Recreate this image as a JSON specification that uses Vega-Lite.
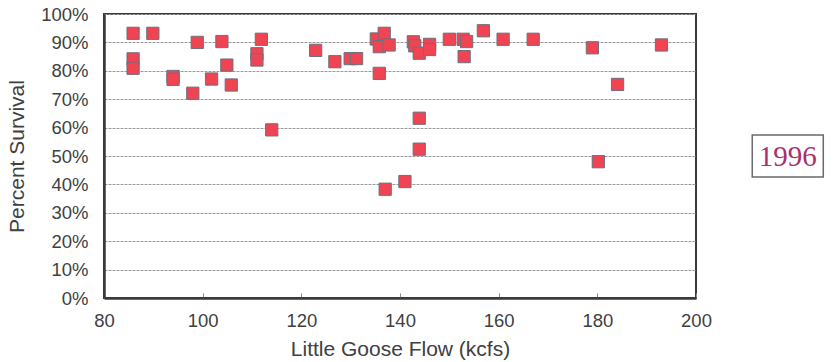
{
  "$schema": "https://vega.github.io/schema/vega-lite/v6.json",
  "autosize": {"type": "none"},
  "width": 592,
  "height": 284,
  "padding": {"left": 104, "top": 14, "right": 139, "bottom": 64},
  "background": "white",
  "config": {
    "view": {"stroke": "#3a3a3a", "strokeWidth": 2},
    "axis": {"labelFont": "Liberation Sans", "titleFont": "Liberation Sans", "labelColor": "#404040", "titleColor": "#404040", "titleFontWeight": "normal", "labelOverlap": false, "labelFlush": false}
  },
  "encoding": {
    "x": {"field": "flow", "type": "quantitative", "title": "Little Goose Flow (kcfs)", "scale": {"domain": [80, 200], "nice": false, "zero": false},
      "axis": {"values": [80, 100, 120, 140, 160, 180, 200], "tickCount": 20, "grid": false,
        "domainColor": "#3a3a3a", "domainWidth": 2.5, "ticks": true, "tickSize": -5, "tickColor": "#888", "labelPadding": 18,
        "labelFontSize": 18.5, "titleFontSize": 21, "titleX": 296, "titleY": 57, "titleBaseline": "alphabetic", "titleAlign": "center"}},
    "y": {"field": "survival", "type": "quantitative", "title": "Percent Survival", "scale": {"domain": [0, 1], "nice": false},
      "axis": {"values": [0, 0.1, 0.2, 0.3, 0.4, 0.5, 0.6, 0.7, 0.8, 0.9, 1.0], "tickCount": 20, "format": ".0%",
        "grid": true, "gridColor": "#9a9a9a", "gridWidth": 1, "gridDash": [3, 1],
        "domainColor": "#3a3a3a", "domainWidth": 2.5, "ticks": false, "labelPadding": 16,
        "labelFontSize": 18.5, "titleFontSize": 21, "titleAngle": -90, "titleX": -81, "titleY": 142, "titleBaseline": "alphabetic", "titleAlign": "center"}}
  },
  "layer": [
    {
      "data": {"values": [
        {"flow": 85.9, "survival": 0.932},
        {"flow": 85.9, "survival": 0.842},
        {"flow": 85.9, "survival": 0.809},
        {"flow": 89.9, "survival": 0.932},
        {"flow": 94.0, "survival": 0.780},
        {"flow": 94.0, "survival": 0.770},
        {"flow": 98.0, "survival": 0.721},
        {"flow": 98.9, "survival": 0.900},
        {"flow": 101.8, "survival": 0.771},
        {"flow": 103.9, "survival": 0.903},
        {"flow": 104.9, "survival": 0.820},
        {"flow": 105.8, "survival": 0.750},
        {"flow": 111.0, "survival": 0.860},
        {"flow": 111.0, "survival": 0.838},
        {"flow": 111.9, "survival": 0.911},
        {"flow": 114.0, "survival": 0.592},
        {"flow": 122.9, "survival": 0.872},
        {"flow": 126.8, "survival": 0.832},
        {"flow": 129.9, "survival": 0.843},
        {"flow": 131.2, "survival": 0.843},
        {"flow": 135.2, "survival": 0.912},
        {"flow": 135.8, "survival": 0.885},
        {"flow": 135.8, "survival": 0.791},
        {"flow": 136.8, "survival": 0.932},
        {"flow": 137.8, "survival": 0.891},
        {"flow": 137.0, "survival": 0.383},
        {"flow": 141.0, "survival": 0.410},
        {"flow": 142.7, "survival": 0.902},
        {"flow": 143.0, "survival": 0.888},
        {"flow": 143.9, "survival": 0.862},
        {"flow": 143.9, "survival": 0.633},
        {"flow": 143.9, "survival": 0.524},
        {"flow": 146.0, "survival": 0.893},
        {"flow": 146.0, "survival": 0.875},
        {"flow": 150.0, "survival": 0.911},
        {"flow": 152.8, "survival": 0.911},
        {"flow": 153.5, "survival": 0.903},
        {"flow": 153.0, "survival": 0.850},
        {"flow": 156.9, "survival": 0.941},
        {"flow": 160.9, "survival": 0.911},
        {"flow": 167.0, "survival": 0.911},
        {"flow": 179.0, "survival": 0.881},
        {"flow": 180.2, "survival": 0.480},
        {"flow": 184.1, "survival": 0.752},
        {"flow": 193.0, "survival": 0.891}
      ]},
      "mark": {"type": "point", "shape": "square", "filled": true, "size": 150, "fill": "#f04452", "stroke": "#6b7080", "strokeWidth": 1, "opacity": 1}
    },
    {
      "data": {"values": [{"flow": 211.4, "flow2": 225.8, "survival": 0.426, "survival2": 0.574}]},
      "mark": {"type": "rect", "fill": "white", "stroke": "#6a6a6a", "strokeWidth": 1.5},
      "encoding": {
        "x2": {"field": "flow2"},
        "y2": {"field": "survival2"}
      }
    },
    {
      "data": {"values": [{"flow": 218.6, "survival": 0.495, "label": "1996"}]},
      "mark": {"type": "text", "font": "Liberation Serif", "fontSize": 29, "color": "#a8306e", "align": "center", "baseline": "middle"},
      "encoding": {
        "text": {"field": "label"}
      }
    }
  ]
}
